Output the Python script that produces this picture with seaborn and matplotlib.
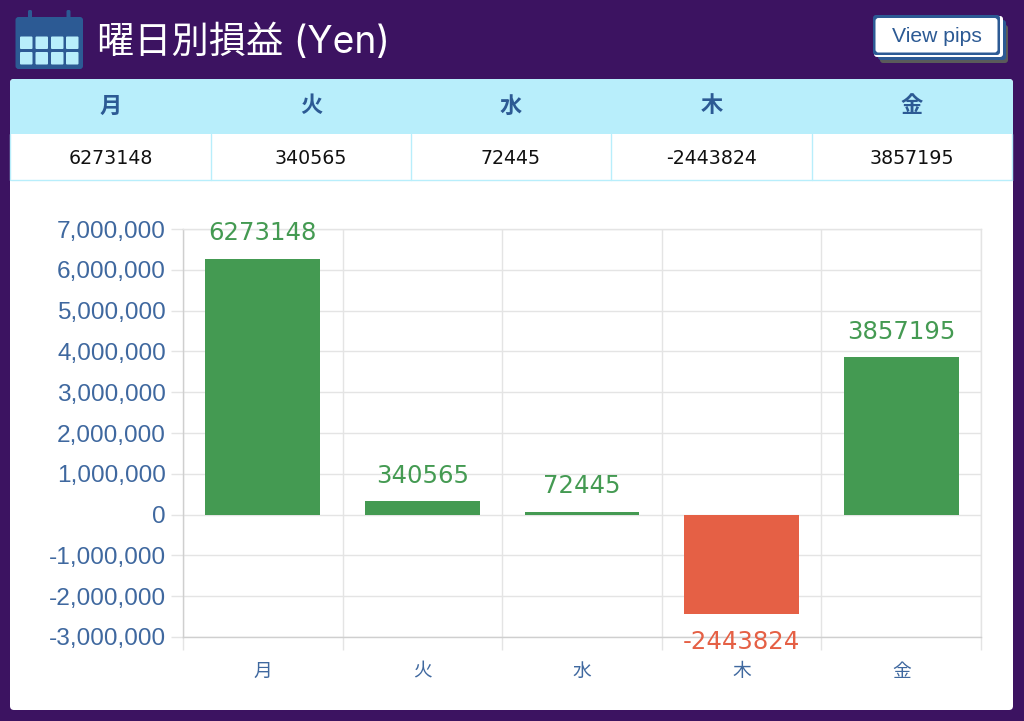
import seaborn as sns
import matplotlib
matplotlib.use('Agg')
import matplotlib.pyplot as plt
from matplotlib.patches import FancyBboxPatch, Rectangle
from matplotlib.ticker import FuncFormatter, FixedLocator
import pandas as pd

days = ['月', '火', '水', '木', '金']
values = [6273148, 340565, 72445, -2443824, 3857195]
y_ticks = [-3000000, -2000000, -1000000, 0, 1000000, 2000000, 3000000, 4000000, 5000000, 6000000, 7000000]
title = '曜日別損益 (Yen)'
button_text = 'View pips'

PURPLE = '#3c1361'
BLUE = '#2c5a94'
TICK_BLUE = '#3f689f'
LIGHT = '#b8eefb'
GREEN = '#449a52'
RED = '#e56045'

sns.set_theme(style='white')
plt.rcParams['font.family'] = ['Inter', 'Noto Sans CJK JP', 'DejaVu Sans']
CJK = ['Noto Sans CJK JP', 'DejaVu Sans']
NUM = ['DejaVu Sans']

fig = plt.figure(figsize=(10.24, 7.21), dpi=100, facecolor=PURPLE)

# Page layer in pixel coordinates
bg = fig.add_axes([0, 0, 1, 1], zorder=0)
bg.set_xlim(0, 1024)
bg.set_ylim(721, 0)
bg.axis('off')


def box(x0, y0, x1, y1, color, r=4, **kw):
    bg.add_patch(FancyBboxPatch((x0 + r, y0 + r), x1 - x0 - 2 * r, y1 - y0 - 2 * r,
                                boxstyle=f'round,pad={r},rounding_size={r}',
                                fc=color, mutation_aspect=1, **kw))


# white card and header of the table
box(10, 79, 1013, 710, 'white', lw=0)
box(10, 79, 1013, 130, LIGHT, lw=0)
bg.add_patch(Rectangle((10, 110), 1003, 24, fc=LIGHT, lw=0))

col_edges = [10, 211, 411, 611, 812, 1012]
for i in range(5):
    cx = (col_edges[i] + col_edges[i + 1]) / 2
    bg.text(cx, 106, days[i], ha='center', va='center', color=BLUE, fontsize=16,
            fontweight='bold', family=CJK)
    bg.text(cx, 158.5, str(values[i]), ha='center', va='center', color='#111111', fontsize=13.7,
            family=NUM)
for x in col_edges:
    bg.plot([x, x], [134, 180], color=LIGHT, lw=1)
bg.plot([11, 1012], [180, 180], color=LIGHT, lw=1)

# calendar icon
box(15.5, 17, 83, 69, BLUE, r=3, lw=0)
for x in (30, 68.5):
    box(x - 2, 10, x + 2, 22, BLUE, r=1.5, lw=0)
for row in (36.5, 52):
    for x in (20, 35.5, 51, 66):
        box(x, row, x + 12.5, row + 12.5, LIGHT, r=1, lw=0)

bg.text(97, 42.5, title, ha='left', va='center', color='white', fontsize=26.8,
        family=['Inter', 'Noto Sans CJK JP', 'DejaVu Sans'])

# button with stacked shadow
box(880, 25, 1008, 63, '#5a5a5a', r=3, lw=0)
box(878, 20, 1006, 60, BLUE, r=3, lw=0)
box(874, 16, 1003, 57, 'white', r=3, lw=0)
box(873, 15, 1000, 55, BLUE, r=3, lw=0)
box(875.5, 18, 997.5, 52.5, 'white', r=3, lw=0)
bg.text(936.5, 36, button_text, ha='center', va='center', color=BLUE, fontsize=15.2,
        family=['Liberation Sans'])

# Chart
ax = fig.add_axes([183 / 1024, 1 - 637 / 721, (981 - 183) / 1024, (637 - 229) / 721], zorder=1)
ax.patch.set_alpha(0)

df = pd.DataFrame({'day': days, 'value': values})
df['sign'] = ['pos' if v >= 0 else 'neg' for v in values]
sns.barplot(data=df, x='day', y='value', hue='sign', hue_order=['pos', 'neg'],
            palette={'pos': GREEN, 'neg': RED}, width=0.72, dodge=False, legend=False,
            saturation=1, linewidth=0, ax=ax, zorder=3)

ax.set_xlim(-0.5, 4.5)
ax.set_ylim(-3000000, 7000000)
ax.set_xlabel('')
ax.set_ylabel('')
ax.yaxis.set_major_locator(FixedLocator(y_ticks))
ax.yaxis.set_major_formatter(FuncFormatter(lambda v, p: f'{int(v):,}'))
ax.xaxis.set_minor_locator(FixedLocator([i - 0.5 for i in range(len(days) + 1)]))

ax.grid(True, axis='y', which='major', color='#e4e4e4', lw=1, zorder=0)
ax.grid(True, axis='x', which='minor', color='#e4e4e4', lw=1, zorder=0)
ax.grid(False, axis='x', which='major')
ax.set_axisbelow(True)

ax.tick_params(axis='y', which='major', left=True, length=8.6, width=1, color='#e4e4e4', pad=3.7,
               labelsize=17.6, labelcolor=TICK_BLUE)
ax.tick_params(axis='x', which='minor', bottom=True, length=9.4, width=1, color='#e4e4e4')
ax.tick_params(axis='x', which='major', length=0, pad=17, labelsize=13.5, labelcolor=TICK_BLUE)
for lab in ax.get_yticklabels():
    lab.set_family(['Liberation Sans'])
for lab in ax.get_xticklabels():
    lab.set_family(CJK)

for name, spine in ax.spines.items():
    spine.set_color('#cfcfcf' if name in ('left', 'bottom') else '#e4e4e4')
    spine.set_linewidth(1)

for i, v in enumerate(values):
    off = 9.5 if v >= 0 else -11
    ax.annotate(str(v), xy=(i, v), xytext=(0, off), textcoords='offset points',
                ha='center', va='bottom' if v >= 0 else 'top', color=GREEN if v >= 0 else RED,
                fontsize=17.6, family=NUM, annotation_clip=False, zorder=5)

fig.savefig('out.png', dpi=100, facecolor=PURPLE)
